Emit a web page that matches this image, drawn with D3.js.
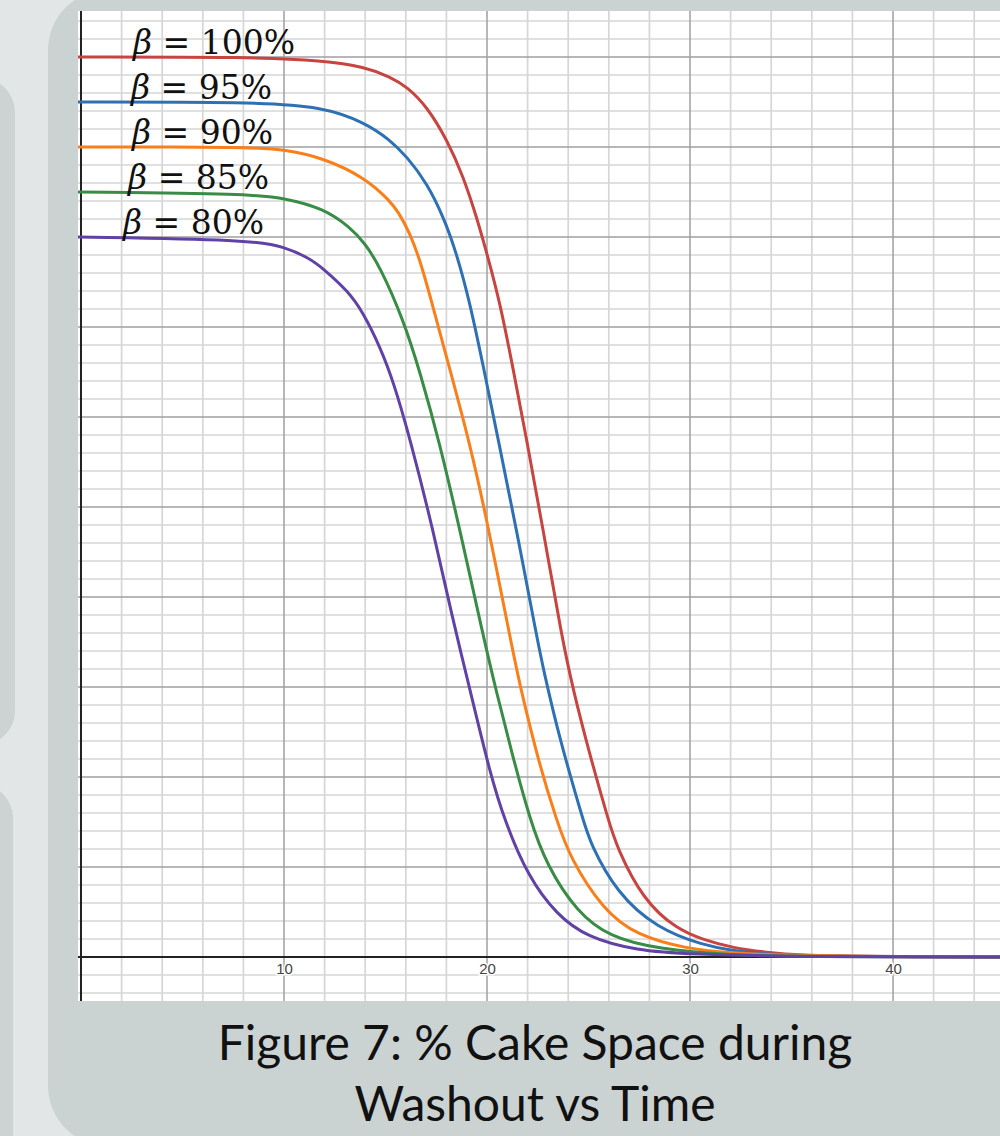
<!DOCTYPE html>
<html>
<head>
<meta charset="utf-8">
<script src="https://cdn.jsdelivr.net/npm/d3@7"></script>
<style>
  html, body { margin: 0; padding: 0; background: #e2e6e6; }
  svg { display: block; }
</style>
</head>
<body>
<svg id="chart" width="1000" height="1136"></svg>
<script>
// Washout curves: fraction of cake space vs time, one series per beta
const seriesNames = ["β = 100%", "β = 95%", "β = 90%", "β = 85%", "β = 80%"];
const betaValues = [1.00, 0.95, 0.90, 0.85, 0.80];
const seriesColors = ["#c74440", "#2d70b3", "#fa7e19", "#388c46", "#6042a6"];
const labelTimes = [2.56, 2.46, 2.51, 2.32, 2.07];

// [time, fraction] samples for each series
const red100 = [[-0.5,1.000],[0,1.000],[8.33,1.000],[11.92,0.996],[13.99,0.989],[15.22,0.978],[16.06,0.967],[17.04,0.945],[18.03,0.908],[18.82,0.868],[19.49,0.822],[19.99,0.782],[20.64,0.727],[21.30,0.652],[21.96,0.574],[22.77,0.474],[23.68,0.356],[24.25,0.296],[25.07,0.224],[25.98,0.152],[26.39,0.122],[27.70,0.063],[29.34,0.031],[30.66,0.019],[32.12,0.010],[33.79,0.005],[35.42,0.002],[38.4,0.0005],[46,0]];
const blue95 = [[-0.5,0.950],[0,0.950],[8.33,0.950],[11.92,0.945],[13.99,0.927],[15.22,0.908],[16.06,0.889],[17.04,0.860],[17.88,0.821],[18.47,0.784],[19.16,0.727],[19.82,0.656],[20.56,0.574],[21.46,0.474],[22.45,0.356],[22.77,0.320],[23.60,0.240],[24.74,0.152],[25.07,0.127],[26.39,0.071],[28.36,0.032],[30.66,0.013],[32.12,0.007],[33.79,0.003],[35.42,0.001],[46,0]];
const orange90 = [[-0.5,0.900],[0,0.900],[8.33,0.900],[10.05,0.897],[11.92,0.888],[13.99,0.866],[15.22,0.840],[15.63,0.828],[16.21,0.804],[16.70,0.774],[17.19,0.735],[18.18,0.652],[19.16,0.570],[19.99,0.486],[21.13,0.356],[21.63,0.300],[22.61,0.211],[23.43,0.152],[24.09,0.110],[25.73,0.052],[27.37,0.024],[29.84,0.009],[32.12,0.004],[35.42,0.001],[46,0]];
const green85 = [[-0.5,0.850],[0,0.850],[8.33,0.848],[10.05,0.843],[11.92,0.832],[13.25,0.811],[13.99,0.793],[14.73,0.767],[15.88,0.708],[16.70,0.650],[17.68,0.570],[18.67,0.474],[19.82,0.356],[20.48,0.293],[21.22,0.227],[22.12,0.152],[22.94,0.102],[24.42,0.050],[26.06,0.022],[28.36,0.009],[32.12,0.002],[35.42,0.0003],[46,0]];
const purple80 = [[-0.5,0.800],[0,0.800],[8.33,0.797],[10.05,0.789],[11.28,0.776],[11.92,0.765],[13.15,0.740],[13.90,0.716],[14.73,0.678],[15.38,0.640],[16.21,0.576],[17.35,0.474],[18.26,0.380],[19.16,0.297],[20.15,0.204],[20.89,0.150],[22.03,0.089],[23.43,0.047],[24.91,0.022],[27.37,0.007],[30.0,0.003],[35.42,0.0002],[46,0]];
const allSeries = [red100, blue95, orange90, green85, purple80];

const xTickLabels = [10, 20, 30, 40];
const captionLines = ["Figure 7: % Cake Space during", "Washout vs Time"];

const svg = d3.select("#chart");
const W = 1000, H = 1136;

// background panels
svg.append("rect").attr("x", 0).attr("y", 0).attr("width", W).attr("height", H).attr("fill", "#e2e6e6");
svg.append("rect").attr("x", -60).attr("y", 78).attr("width", 75).attr("height", 667).attr("rx", 34).attr("fill", "#cdd3d3");
svg.append("rect").attr("x", -60).attr("y", 784).attr("width", 73).attr("height", 420).attr("rx", 34).attr("fill", "#cdd3d3");
svg.append("rect").attr("x", 48).attr("y", -10).attr("width", 1000).attr("height", 1156).attr("rx", 60).attr("fill", "#cbd2d2");

// plot frame
const plot = { left: 78, right: 1000, top: 11, bottom: 1001 };
const x = d3.scaleLinear().domain([-0.148, 45.27]).range([plot.left, plot.right]);
const y = d3.scaleLinear().domain([-0.0489, 1.0511]).range([plot.bottom, plot.top]);

svg.append("defs").append("clipPath").attr("id", "plotClip")
  .append("rect").attr("x", plot.left).attr("y", plot.top)
  .attr("width", plot.right - plot.left).attr("height", plot.bottom - plot.top);

svg.append("rect").attr("x", plot.left).attr("y", plot.top)
  .attr("width", plot.right - plot.left).attr("height", plot.bottom - plot.top)
  .attr("fill", "#ffffff");

const g = svg.append("g").attr("clip-path", "url(#plotClip)");

// grid: minor every 2 units in x, 0.02 in y; major every 10 and 0.1
const xMinor = d3.range(0, 46, 2);
const yMinor = d3.range(-4, 53).map(i => i * 0.02);
const isMajorX = v => Math.abs(v % 10) < 1e-6;
const isMajorY = v => Math.abs(Math.round(v * 50) % 5) === 0;

g.append("g").selectAll("line").data(xMinor.filter(v => !isMajorX(v))).join("line")
  .attr("x1", d => x(d)).attr("x2", d => x(d)).attr("y1", plot.top).attr("y2", plot.bottom)
  .attr("stroke", "#d6d6d6").attr("stroke-width", 1.7);
g.append("g").selectAll("line").data(yMinor.filter(v => !isMajorY(v))).join("line")
  .attr("y1", d => y(d)).attr("y2", d => y(d)).attr("x1", plot.left).attr("x2", plot.right)
  .attr("stroke", "#d6d6d6").attr("stroke-width", 1.7);
g.append("g").selectAll("line").data(xMinor.filter(v => isMajorX(v) && v !== 0)).join("line")
  .attr("x1", d => x(d)).attr("x2", d => x(d)).attr("y1", plot.top).attr("y2", plot.bottom)
  .attr("stroke", "#9f9f9f").attr("stroke-width", 1.5);
g.append("g").selectAll("line").data(yMinor.filter(v => isMajorY(v) && Math.abs(v) > 1e-6)).join("line")
  .attr("y1", d => y(d)).attr("y2", d => y(d)).attr("x1", plot.left).attr("x2", plot.right)
  .attr("stroke", "#9f9f9f").attr("stroke-width", 1.5);

// axes lines
g.append("line").attr("x1", plot.left).attr("x2", plot.right).attr("y1", y(0)).attr("y2", y(0))
  .attr("stroke", "#222").attr("stroke-width", 2);
g.append("line").attr("x1", x(0)).attr("x2", x(0)).attr("y1", plot.top).attr("y2", plot.bottom)
  .attr("stroke", "#222").attr("stroke-width", 2);

// x tick labels
const xAxis = d3.axisBottom(x).tickValues(xTickLabels).tickSize(0).tickPadding(6);
const axG = svg.append("g").attr("transform", `translate(0,${y(0)})`).call(xAxis);
axG.select(".domain").remove();
axG.selectAll("text")
  .attr("font-family", "Liberation Sans, Arial, sans-serif")
  .attr("font-size", 15).attr("fill", "#444")
  .attr("stroke", "#fff").attr("stroke-width", 3).attr("paint-order", "stroke");

// curves
const line = d3.line().x(d => x(d[0])).y(d => y(d[1])).curve(d3.curveBasis);
g.append("g").selectAll("path").data(allSeries).join("path")
  .attr("d", line)
  .attr("fill", "none")
  .attr("stroke", (d, i) => seriesColors[i])
  .attr("stroke-width", 3)
  .attr("stroke-linejoin", "round");

// series labels sitting on each curve's plateau
const labels = svg.append("g")
  .attr("font-family", "'DejaVu Serif', 'Liberation Serif', serif")
  .attr("font-size", 33).attr("fill", "#111");
seriesNames.forEach((name, i) => {
  const t = labels.append("text")
    .attr("x", x(labelTimes[i])).attr("y", y(betaValues[i]) - 3);
  const parts = name.split(" = ");
  t.append("tspan").attr("font-style", "italic").text(parts[0]);
  t.append("tspan").text(" = " + parts[1]);
});

// caption
svg.append("g").selectAll("text").data(captionLines).join("text")
  .attr("x", 535).attr("y", (d, i) => 1060 + i * 61)
  .attr("text-anchor", "middle")
  .attr("font-family", "Lato, 'Open Sans', sans-serif")
  .attr("font-size", 48).attr("fill", "#111")
  .text(d => d);
</script>
</body>
</html>
